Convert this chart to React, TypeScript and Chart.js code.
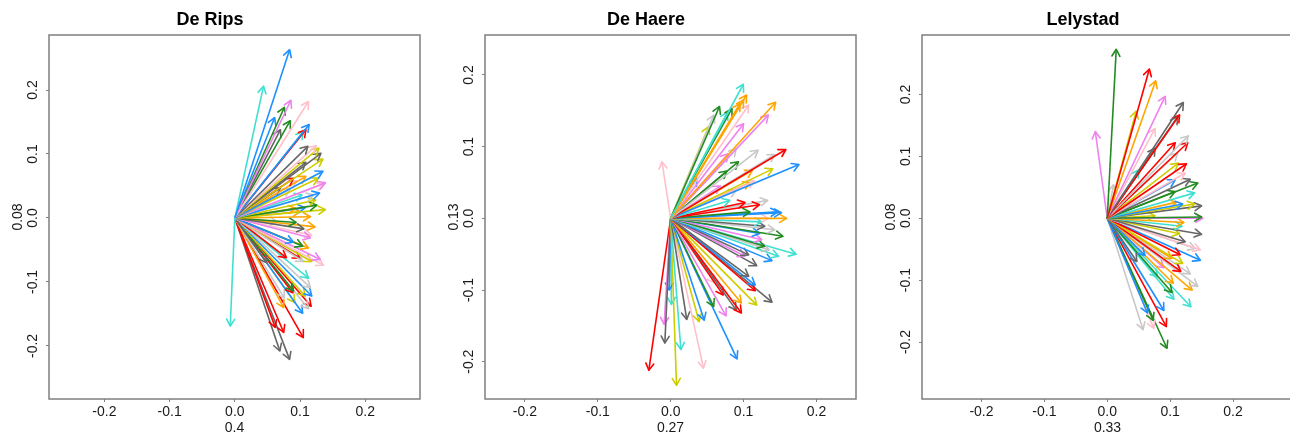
import React, { useEffect, useRef } from "react";
import { Chart, registerables } from "chart.js";

Chart.register(...registerables);

// ---------- colour keys ----------
const COLORS: Record<string, string> = {
  blue: "#1E90FF",
  turq: "#40E0D0",
  orange: "#FFA500",
  red: "#FF0000",
  green: "#228B22",
  dgray: "#666666",
  lgray: "#C8C8C8",
  violet: "#EE82EE",
  pink: "#FFC0CB",
  yellow: "#CDCD00",
};

// ---------- De Rips ----------
const deRipsX = [
  0.084, 0.044, -0.007, 0.086, 0.113, 0.076, 0.061, 0.085, 0.07, 0.114, 0.109, 0.105, 0.112, 0.125,
  0.129, 0.132, 0.135, 0.109, 0.135, 0.09, 0.109, 0.128, 0.139, 0.136, 0.07, 0.13, 0.103, 0.121,
  0.124, 0.126, 0.093, 0.139, 0.108, 0.116, 0.094, 0.106, 0.123, 0.065, 0.116, 0.118, 0.09, 0.104,
  0.113, 0.131, 0.136, 0.118, 0.105, 0.079, 0.049, 0.1, 0.113, 0.116, 0.118, 0.108, 0.09, 0.089,
  0.113, 0.117, 0.104, 0.092, 0.076, 0.075, 0.105, 0.075, 0.062, 0.069, 0.084, 0.1, 0.085, 0.095,
];
const deRipsY = [
  0.263, 0.206, -0.169, 0.184, 0.182, 0.173, 0.157, 0.152, 0.138, 0.146, 0.138, 0.135, 0.112, 0.113,
  0.109, 0.101, 0.092, 0.087, 0.073, 0.062, 0.065, 0.062, 0.055, 0.053, 0.047, 0.039, 0.036, 0.036,
  0.028, 0.02, 0.015, 0.013, 0.016, 0.002, -0.007, -0.017, -0.014, -0.006, -0.031, -0.027, -0.038,
  -0.044, -0.047, -0.065, -0.074, -0.068, -0.068, -0.062, -0.07, -0.063, -0.094, -0.109, -0.122,
  -0.122, -0.114, -0.117, -0.142, -0.138, -0.149, -0.132, -0.125, -0.14, -0.187, -0.179, -0.171,
  -0.208, -0.221, 0.01, 0.045, 0.058,
];
const deRipsColour = [
  "blue", "turq", "turq", "violet", "pink", "green", "blue", "green", "dgray", "blue", "red", "turq",
  "dgray", "pink", "yellow", "dgray", "yellow", "dgray", "blue", "red", "orange", "yellow", "violet",
  "pink", "dgray", "blue", "turq", "lgray", "yellow", "green", "orange", "yellow", "blue", "orange",
  "green", "dgray", "orange", "lgray", "violet", "pink", "blue", "green", "orange", "violet", "pink",
  "yellow", "lgray", "red", "dgray", "red", "turq", "lgray", "blue", "yellow", "green", "red", "lgray",
  "red", "blue", "yellow", "lgray", "orange", "red", "red", "red", "dgray", "dgray", "orange", "lgray",
  "pink",
];

// ---------- De Haere ----------
const deHaereX = [
  0.0997, 0.104, 0.1, 0.095, 0.144, 0.067, 0.084, 0.078, 0.107, 0.059, 0.134, 0.052, 0.1, 0.09, 0.12,
  0.158, 0.143, 0.079, 0.093, 0.176, 0.077, 0.14, 0.112, 0.036, 0.115, 0.109, 0.068, 0.09, -0.012,
  0.081, 0.102, 0.122, 0.133, 0.109, 0.152, 0.147, 0.159, 0.134, 0.125, 0.129, 0.143, 0.154, 0.122,
  0.125, 0.129, 0.135, 0.172, 0.148, 0.139, 0.107, 0.102, 0.118, 0.107, 0.116, 0.116, 0.139, 0.118,
  0.097, 0.097, 0.09, 0.076, 0.059, 0.072, 0.046, 0.039, 0.022, 0.091, 0.045, 0.014, 0.008, -0.008,
  -0.009, -0.03, -0.002, 0.001, 0.06,
];
const deHaereY = [
  0.187, 0.172, 0.165, 0.16, 0.162, 0.156, 0.153, 0.148, 0.158, 0.144, 0.144, 0.128, 0.132, 0.097,
  0.095, 0.096, 0.089, 0.09, 0.079, 0.075, 0.066, 0.069, 0.067, 0.056, 0.052, 0.05, 0.045, 0.039,
  0.079, 0.025, 0.022, 0.019, 0.025, 0.009, 0.008, 0.009, 0.0, 0.0, -0.005, -0.011, -0.016, -0.025,
  -0.021, -0.03, -0.039, -0.044, -0.05, -0.053, -0.059, -0.051, -0.053, -0.066, -0.081, -0.093,
  -0.101, -0.117, -0.121, -0.118, -0.132, -0.128, -0.136, -0.123, -0.107, -0.142, -0.144, -0.141,
  -0.196, -0.209, -0.183, -0.233, -0.174, -0.148, -0.212, -0.1, -0.12, -0.09,
];
const deHaereColour = [
  "turq", "orange", "orange", "orange", "orange", "green", "green", "turq", "pink", "lgray", "violet",
  "yellow", "violet", "lgray", "lgray", "red", "lgray", "violet", "green", "blue", "green", "yellow",
  "orange", "blue", "pink", "orange", "violet", "lgray", "pink", "turq", "red", "red", "lgray", "green",
  "blue", "blue", "orange", "pink", "turq", "dgray", "lgray", "green", "blue", "violet", "green",
  "lgray", "turq", "turq", "blue", "dgray", "violet", "dgray", "dgray", "blue", "red", "dgray",
  "yellow", "orange", "red", "dgray", "violet", "green", "red", "blue", "yellow", "dgray", "blue",
  "pink", "turq", "yellow", "dgray", "violet", "red", "blue", "turq", "pink",
];

// ---------- Lelystad ----------
const lelystadX = [
  0.0143, 0.067, 0.077, 0.092, 0.121, 0.046, 0.115, 0.112, -0.019, 0.076, 0.129, 0.128, 0.108, 0.076,
  0.112, 0.126, 0.113, 0.05, 0.124, 0.132, 0.144, 0.108, 0.139, 0.108, 0.01, 0.12, 0.139, 0.15, 0.11,
  0.15, 0.152, 0.076, 0.122, 0.119, 0.15, 0.124, 0.115, 0.148, 0.14, 0.116, 0.148, 0.12, 0.103, 0.047,
  0.06, 0.117, 0.132, 0.144, 0.135, 0.105, 0.103, 0.106, 0.133, 0.09, 0.064, 0.073, 0.094, 0.074,
  0.057, 0.095, 0.09, 0.08,
];
const lelystadY = [
  0.273, 0.241, 0.222, 0.197, 0.187, 0.173, 0.167, 0.164, 0.14, 0.145, 0.133, 0.122, 0.122, 0.113,
  0.105, 0.088, 0.089, 0.078, 0.073, 0.063, 0.057, 0.062, 0.041, 0.043, 0.054, 0.023, 0.023, 0.02,
  0.026, 0.002, 0.0, 0.004, -0.007, -0.013, -0.026, -0.038, -0.025, -0.051, -0.049, -0.059, -0.068,
  -0.073, -0.065, -0.07, -0.06, -0.086, -0.09, -0.11, -0.116, -0.105, -0.12, -0.131, -0.143, -0.149,
  -0.153, -0.165, -0.175, -0.178, -0.18, -0.21, -0.08, -0.095,
];
const lelystadColour = [
  "green", "red", "orange", "violet", "dgray", "yellow", "red", "dgray", "violet", "pink", "lgray",
  "red", "red", "dgray", "lgray", "red", "yellow", "turq", "pink", "dgray", "green", "blue", "turq",
  "green", "lgray", "blue", "yellow", "dgray", "orange", "green", "violet", "yellow", "orange", "turq",
  "dgray", "dgray", "yellow", "pink", "lgray", "red", "blue", "yellow", "orange", "dgray", "blue", "red",
  "lgray", "lgray", "orange", "orange", "green", "turq", "turq", "blue", "blue", "green", "red", "pink",
  "lgray", "green", "violet", "turq",
];

const titles = ["De Rips", "De Haere", "Lelystad"];
const xAxisTitles = ["0.4", "0.27", "0.33"];
const yAxisTitles = ["0.08", "0.13", "0.08"];

// ---------- layout (not data) ----------
const FONT = "'Liberation Sans', Arial, Helvetica, sans-serif";
const CANVAS_W = 469;
const CANVAS_H = 435;
const LEFT_AXIS_W = 49;
const BOTTOM_AXIS_H = 36;

type PanelCfg = {
  title: string;
  xs: number[];
  ys: number[];
  cols: string[];
  xTitle: string;
  yTitle: string;
  xMin: number;
  xMax: number;
  yMin: number;
  yMax: number;
  left: number;
};

const panels: PanelCfg[] = [
  { title: titles[0], xs: deRipsX, ys: deRipsY, cols: deRipsColour, xTitle: xAxisTitles[0], yTitle: yAxisTitles[0], xMin: -0.285, xMax: 0.284, yMin: -0.283, yMax: 0.286, left: 0 },
  { title: titles[1], xs: deHaereX, ys: deHaereY, cols: deHaereColour, xTitle: xAxisTitles[1], yTitle: yAxisTitles[1], xMin: -0.2547, xMax: 0.2542, yMin: -0.252, yMax: 0.2557, left: 436 },
  { title: titles[2], xs: lelystadX, ys: lelystadY, cols: lelystadColour, xTitle: xAxisTitles[2], yTitle: yAxisTitles[2], xMin: -0.2946, xMax: 0.2954, yMin: -0.292, yMax: 0.296, left: 873 },
];

const arrowHeads = {
  id: "arrowHeads",
  afterDatasetDraw(chart: any, args: any) {
    const pts = args.meta.data;
    if (!pts || pts.length < 2) return;
    const ds = chart.data.datasets[args.index];
    const a = pts[0];
    const b = pts[1];
    const ang = Math.atan2(b.y - a.y, b.x - a.x);
    const L = 8;
    const phi = Math.PI / 6;
    const ctx = chart.ctx;
    ctx.save();
    ctx.strokeStyle = ds.borderColor;
    ctx.lineWidth = ds.borderWidth;
    ctx.lineCap = "round";
    ctx.lineJoin = "round";
    ctx.beginPath();
    ctx.moveTo(b.x - L * Math.cos(ang - phi), b.y - L * Math.sin(ang - phi));
    ctx.lineTo(b.x, b.y);
    ctx.lineTo(b.x - L * Math.cos(ang + phi), b.y - L * Math.sin(ang + phi));
    ctx.stroke();
    ctx.restore();
  },
};

const boxPlugin = {
  id: "plotBox",
  afterDraw(chart: any) {
    const { left, right, top, bottom } = chart.chartArea;
    const ctx = chart.ctx;
    ctx.save();
    ctx.strokeStyle = "#7f7f7f";
    ctx.lineWidth = 1.5;
    ctx.strokeRect(left, top, right - left, bottom - top);
    ctx.restore();
  },
};

function Panel({ cfg }: { cfg: PanelCfg }) {
  const ref = useRef<HTMLCanvasElement | null>(null);
  useEffect(() => {
    if (!ref.current) return;
    const datasets = cfg.xs.map((x, i) => ({
      data: [
        { x: 0, y: 0 },
        { x, y: cfg.ys[i] },
      ],
      showLine: true,
      borderColor: COLORS[cfg.cols[i]],
      backgroundColor: COLORS[cfg.cols[i]],
      borderWidth: 1.6,
      pointRadius: 0,
      pointHoverRadius: 0,
      fill: false,
    }));
    const tickFont = { family: FONT, size: 14 };
    const chart = new Chart(ref.current, {
      type: "scatter",
      data: { datasets },
      plugins: [arrowHeads, boxPlugin],
      options: {
        animation: false,
        responsive: false,
        devicePixelRatio: 1,
        events: [],
        layout: { padding: { left: 0, right: CANVAS_W - LEFT_AXIS_W - 371, top: 0, bottom: 0 } },
        plugins: {
          legend: { display: false },
          tooltip: { enabled: false },
          title: {
            display: true,
            text: cfg.title,
            color: "#000",
            font: { family: FONT, size: 18, weight: "bold", lineHeight: 1.2 },
            padding: { top: 9, bottom: 35 - 21.6 - 9 },
          },
        },
        scales: {
          x: {
            type: "linear",
            min: cfg.xMin,
            max: cfg.xMax,
            afterFit: (s: any) => {
              s.height = BOTTOM_AXIS_H;
            },
            border: { display: false },
            grid: { display: true, drawOnChartArea: false, drawTicks: true, tickLength: 3, color: "#808080", lineWidth: 1 },
            ticks: {
              stepSize: 0.1,
              includeBounds: false,
              autoSkip: false,
              maxRotation: 0,
              minRotation: 0,
              padding: 2,
              color: "#1a1a1a",
              font: tickFont,
              callback: (v: any) => Number(v).toFixed(1),
            },
            title: {
              display: true,
              text: cfg.xTitle,
              color: "#1a1a1a",
              font: { family: FONT, size: 14, lineHeight: 1.2 },
              padding: { top: 0, bottom: -1.5 },
            },
          },
          y: {
            type: "linear",
            min: cfg.yMin,
            max: cfg.yMax,
            afterFit: (s: any) => {
              s.width = LEFT_AXIS_W;
            },
            border: { display: false },
            grid: { display: true, drawOnChartArea: false, drawTicks: true, tickLength: 3, color: "#808080", lineWidth: 1 },
            ticks: {
              stepSize: 0.1,
              includeBounds: false,
              autoSkip: false,
              minRotation: 90,
              maxRotation: 90,
              crossAlign: "center",
              padding: 1,
              color: "#1a1a1a",
              font: tickFont,
              callback: (v: any) => Number(v).toFixed(1),
            },
            title: {
              display: true,
              text: cfg.yTitle,
              color: "#1a1a1a",
              font: { family: FONT, size: 14, lineHeight: 1.2 },
              padding: { top: 10, bottom: 0 },
            },
          },
        },
      } as any,
    });
    return () => chart.destroy();
  }, [cfg]);
  return (
    <canvas
      ref={ref}
      width={CANVAS_W}
      height={CANVAS_H}
      style={{ position: "absolute", left: cfg.left, top: 0, width: CANVAS_W, height: CANVAS_H }}
    />
  );
}

export default function App() {
  return (
    <div
      style={{
        position: "absolute",
        left: 0,
        top: 0,
        width: 1290,
        height: 435,
        overflow: "hidden",
        background: "#fff",
      }}
    >
      {panels.map((p) => (
        <Panel key={p.title} cfg={p} />
      ))}
    </div>
  );
}
